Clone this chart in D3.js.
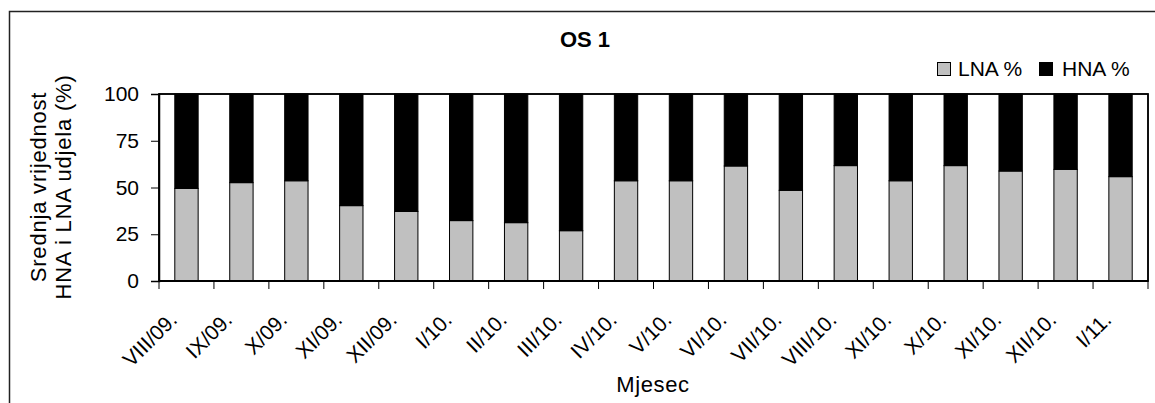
<!DOCTYPE html>
<html>
<head>
<meta charset="utf-8">
<script src="https://cdn.jsdelivr.net/npm/d3@7"></script>
<style>
  html, body { margin: 0; padding: 0; background: #fff; }
  svg { display: block; font-family: "Liberation Sans", Arial, sans-serif; }
</style>
</head>
<body>
<svg id="chart" width="1155" height="403"></svg>
<script>
const categories = ["VIII/09.", "IX/09.", "X/09.", "XI/09.", "XII/09.", "I/10.", "II/10.", "III/10.", "IV/10.", "V/10.", "VI/10.", "VII/10.", "VIII/10.", "XI/10.", "X/10.", "XI/10.", "XII/10.", "I/11."];
const lnaValues = [49.5, 52.6, 53.6, 40.3, 37.2, 32.3, 31.2, 26.9, 53.6, 53.6, 61.5, 48.5, 61.7, 53.6, 61.7, 58.8, 59.7, 55.8];
const hnaValues = [50.5, 47.4, 46.4, 59.7, 62.8, 67.7, 68.8, 73.1, 46.4, 46.4, 38.5, 51.5, 38.3, 46.4, 38.3, 41.2, 40.3, 44.2];
const yTicks = [0, 25, 50, 75, 100];
const seriesNames = ["LNA %", "HNA %"];
const seriesColors = ["#c0c0c0", "#000000"];

const svg = d3.select("#chart");
const W = 1155, H = 403;
const plot = { left: 159, right: 1148, top: 94, bottom: 281 };

// outer frame (extends beyond the visible picture at right/bottom)
svg.append("rect").attr("x", 9.5).attr("y", 11.5).attr("width", 1300).attr("height", 600)
  .attr("fill", "#fff").attr("stroke", "#222").attr("stroke-width", 1.5);

const x = d3.scaleBand().domain(d3.range(categories.length)).range([plot.left, plot.right]).padding(0);
const y = d3.scaleLinear().domain([0, 100]).range([plot.bottom, plot.top]);
const barW = x.bandwidth() * 0.425;

// plot area
svg.append("rect").attr("x", plot.left).attr("y", plot.top)
  .attr("width", plot.right - plot.left).attr("height", plot.bottom - plot.top)
  .attr("fill", "#fff").attr("stroke", "#000").attr("stroke-width", 1.5);

const stack = d3.stack().keys([0, 1]).value((d, k) => k === 0 ? lnaValues[d] : hnaValues[d]);
const stacked = stack(d3.range(categories.length));

svg.append("g").selectAll("g").data(stacked).join("g")
  .attr("fill", (d, i) => seriesColors[i])
  .selectAll("rect").data(d => d).join("rect")
  .attr("x", d => x(d.data) + (x.bandwidth() - barW) / 2)
  .attr("width", barW)
  .attr("y", d => y(d[1]))
  .attr("height", d => y(d[0]) - y(d[1]))
  .attr("stroke", "#000").attr("stroke-width", 1);

// redraw frame edges on top
svg.append("rect").attr("x", plot.left).attr("y", plot.top)
  .attr("width", plot.right - plot.left).attr("height", plot.bottom - plot.top)
  .attr("fill", "none").attr("stroke", "#000").attr("stroke-width", 1.5);

// y axis
const yAxis = d3.axisLeft(y).tickValues(yTicks).tickSize(8).tickPadding(12).tickFormat(d3.format("d"));
const gy = svg.append("g").attr("transform", `translate(${plot.left},0)`).call(yAxis);
gy.select(".domain").attr("stroke", "#000").attr("stroke-width", 1.5);
gy.selectAll(".tick line").attr("stroke", "#000");
gy.selectAll(".tick text").attr("font-size", 21).attr("fill", "#000")
  .attr("font-family", "'Liberation Sans', Arial, sans-serif");

// x axis: ticks between categories
const boundaries = d3.range(categories.length + 1).map(i => plot.left + i * x.step());
const gx = svg.append("g");
gx.append("line").attr("x1", plot.left).attr("x2", plot.right)
  .attr("y1", plot.bottom).attr("y2", plot.bottom).attr("stroke", "#000").attr("stroke-width", 2);
gx.selectAll("line.t").data(boundaries).join("line").attr("class", "t")
  .attr("x1", d => d).attr("x2", d => d).attr("y1", plot.bottom).attr("y2", plot.bottom + 8)
  .attr("stroke", "#000").attr("stroke-width", 1);
gx.selectAll("text").data(categories).join("text")
  .attr("transform", (d, i) => `translate(${x(i) + x.bandwidth() / 2 - 8},${321}) rotate(-45)`)
  .attr("text-anchor", "end")
  .attr("font-size", 21)
  .attr("fill", "#000")
  .text(d => d);

// title
svg.append("text").attr("x", 585).attr("y", 47).attr("text-anchor", "middle")
  .attr("font-size", 22).attr("font-weight", "bold").text("OS 1");

// y axis title
const yt = svg.append("text").attr("transform", "translate(0,187) rotate(-90)")
  .attr("text-anchor", "middle").attr("font-size", 22).attr("letter-spacing", 0.8);
yt.append("tspan").attr("x", 0).attr("y", 46).text("Srednja vrijednost");
yt.append("tspan").attr("x", 0).attr("y", 71).text("HNA i LNA udjela (%)");

// x axis title
svg.append("text").attr("x", 653).attr("y", 392).attr("text-anchor", "middle")
  .attr("font-size", 22).attr("letter-spacing", 0.6).text("Mjesec");

// legend
const legendItems = [
  { sx: 937, tx: 958 },
  { sx: 1039, tx: 1062 }
];
const lg = svg.append("g");
legendItems.forEach((p, i) => {
  lg.append("rect").attr("x", p.sx + 0.5).attr("y", 62.5).attr("width", 13).attr("height", 13)
    .attr("fill", seriesColors[i]).attr("stroke", "#000").attr("stroke-width", 1);
  lg.append("text").attr("x", p.tx).attr("y", 76).attr("font-size", 21).text(seriesNames[i]);
});
</script>
</body>
</html>
